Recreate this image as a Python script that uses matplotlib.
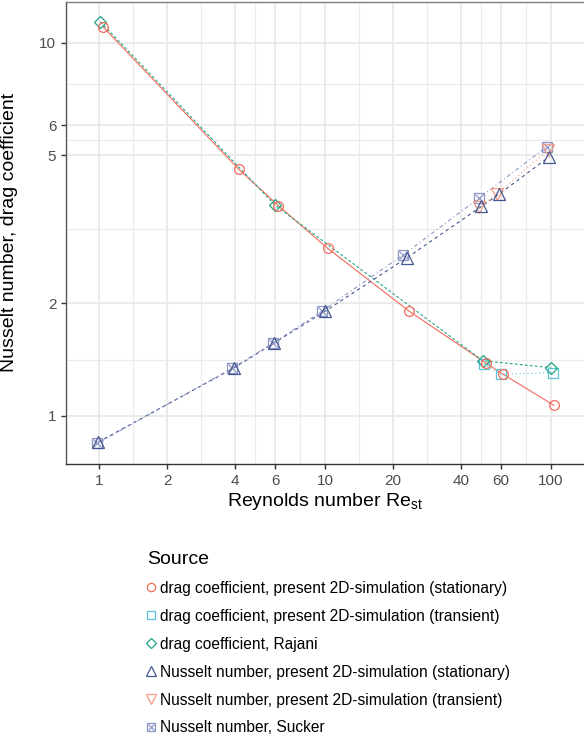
import numpy as np
import matplotlib
matplotlib.use('Agg')
import matplotlib.pyplot as plt
from matplotlib.lines import Line2D
from matplotlib.legend_handler import HandlerTuple

plt.rcParams['font.family'] = ['Liberation Sans', 'DejaVu Sans']

# drag coefficient, present 2D-simulation (stationary)
re_cd_stat = [1.036, 4.14, 6.2, 10.26, 23.6, 51.6, 61.5, 103.2]
cd_stat = [11.04, 4.58, 3.66, 2.81, 1.905, 1.384, 1.291, 1.066]
# drag coefficient, present 2D-simulation (transient)
re_cd_trans = [50.6, 59.9, 101.9]
cd_trans = [1.38, 1.291, 1.304]
# drag coefficient, Rajani
re_cd_rajani = [1.01, 6.0, 49.9, 100.0]
cd_rajani = [11.38, 3.67, 1.404, 1.345]
# Nusselt number, present 2D-simulation (stationary)
re_nu_stat = [0.99, 3.96, 5.93, 9.98, 23.0, 49.3, 59.1, 98.6]
nu_stat = [0.85, 1.345, 1.565, 1.905, 2.65, 3.64, 3.93, 4.95]
# Nusselt number, present 2D-simulation (transient)
re_nu_trans = [48.0, 57.5, 97.5]
nu_trans = [3.62, 3.92, 5.16]
# Nusselt number, Sucker
re_nu_sucker = [0.98, 3.87, 5.86, 9.7, 22.2, 48.0, 95.8]
nu_sucker = [0.843, 1.34, 1.563, 1.908, 2.70, 3.83, 5.26]

labels = ['drag coefficient, present 2D-simulation (stationary)',
          'drag coefficient, present 2D-simulation (transient)',
          'drag coefficient, Rajani',
          'Nusselt number, present 2D-simulation (stationary)',
          'Nusselt number, present 2D-simulation (transient)',
          'Nusselt number, Sucker']

x_ticks = [1, 2, 4, 6, 10, 20, 40, 60, 100]
y_ticks = [1, 2, 5, 6, 10]

c_red = '#F26B5B'
c_cyan = '#5BC3D9'
c_green = '#21A383'
c_navy = '#43568F'
c_salmon = '#F79B84'
c_grey = '#8E97C4'

fig = plt.figure(figsize=(5.84, 7.41), dpi=100)
ax = fig.add_axes([66 / 584, 1 - 464 / 741, 1 - 66 / 584, (464 - 1.5) / 741])
ax.set_xscale('log')
ax.set_yscale('log')
ax.set_xlim(0.711, 140.3)
ax.set_ylim(0.742, 12.9)


def minor_breaks(ticks, lo, hi):
    lt = np.log10(ticks)
    d = lt[1] - lt[0]
    b = list(lt)
    if np.log10(lo) < b[0]:
        b = [b[0] - d] + b
    if np.log10(hi) > b[-1]:
        b = b + [b[-1] + d]
    return [10 ** ((a + c) / 2) for a, c in zip(b[:-1], b[1:])]


for v in minor_breaks(x_ticks, 0.711, 140.3):
    ax.axvline(v, color='#EBEBEB', lw=0.8, zorder=0)
for v in minor_breaks(y_ticks, 0.742, 12.9):
    ax.axhline(v, color='#EBEBEB', lw=0.8, zorder=0)
for v in x_ticks:
    ax.axvline(v, color='#EBEBEB', lw=1.5, zorder=0)
for v in y_ticks:
    ax.axhline(v, color='#EBEBEB', lw=1.5, zorder=0)

lw = 0.8
ax.plot(re_cd_stat, cd_stat, color=c_red, lw=lw, ls='-')
ax.plot(re_cd_trans, cd_trans, color=c_cyan, lw=lw, ls=(0, (1, 2.5)))
ax.plot(re_cd_rajani, cd_rajani, color=c_green, lw=lw, ls=(0, (2.5, 2)))
ax.plot(re_nu_stat, nu_stat, color=c_navy, lw=lw, ls=(0, (3, 3)))
ax.plot(re_nu_trans, nu_trans, color=c_salmon, lw=lw, ls=(0, (1, 2.5)))
ax.plot(re_nu_sucker, nu_sucker, color=c_grey, lw=lw, ls=(0, (1, 2.5, 3.5, 2.5)))

mk = dict(ls='none', mfc='none', mew=0.9)
ax.plot(re_cd_trans, cd_trans, marker='s', ms=7, color=c_cyan, **mk)
ax.plot(re_cd_rajani, cd_rajani, marker='D', ms=6, color=c_green, **mk)
ax.plot(re_cd_stat, cd_stat, marker='o', ms=7, color=c_red, **mk)
ax.plot(re_nu_sucker, nu_sucker, marker='s', ms=7, color=c_grey, **mk)
ax.plot(re_nu_sucker, nu_sucker, marker='x', ms=6, color=c_grey, **mk)
ax.plot(re_nu_trans, nu_trans, marker='v', ms=8.5, color=c_salmon, **mk)
ax.plot(re_nu_stat, nu_stat, marker='^', ms=8.5, color=c_navy, **mk)

ax.set_xticks(x_ticks)
ax.set_xticklabels([str(t) for t in x_ticks])
ax.set_yticks(y_ticks)
ax.set_yticklabels([str(t) for t in y_ticks])
ax.minorticks_off()
ax.tick_params(axis='both', length=3.5, width=1, color='#333333',
               labelcolor='#4D4D4D', labelsize=11)
for s in ['left', 'bottom', 'top']:
    ax.spines[s].set_color('#333333')
    ax.spines[s].set_linewidth(1)
ax.spines['top'].set_color('#7F7F7F')
ax.spines['left'].set_color('#555555')
ax.spines['right'].set_visible(False)

ax.set_xlabel('Reynolds number Re$_{\\mathregular{st}}$', fontsize=14, labelpad=2)
ax.set_ylabel('Nusselt number, drag coefficient', fontsize=14)
ax.yaxis.set_label_coords(-48 / 518, 0.5)

lk = dict(ls='none', mfc='none', mew=0.9)
handles = [
    Line2D([], [], marker='o', ms=6, color=c_red, **lk),
    Line2D([], [], marker='s', ms=6, color=c_cyan, **lk),
    Line2D([], [], marker='D', ms=5.5, color=c_green, **lk),
    Line2D([], [], marker='^', ms=7, color=c_navy, **lk),
    Line2D([], [], marker='v', ms=7, color=c_salmon, **lk),
    (Line2D([], [], marker='s', ms=6, color=c_grey, **lk),
     Line2D([], [], marker='x', ms=5, color=c_grey, **lk)),
]
leg = fig.legend(handles, labels, loc='upper left', bbox_to_anchor=(147 / 584, 1 - 551 / 741),
                 frameon=False, title='Source', fontsize=11.2, title_fontsize=14,
                 handlelength=0.55, handletextpad=0.28, labelspacing=0.83,
                 borderaxespad=0, borderpad=0,
                 handler_map={tuple: HandlerTuple(ndivide=1, pad=0)})
leg._legend_box.align = 'left'

fig.savefig('out.png', dpi=100)
